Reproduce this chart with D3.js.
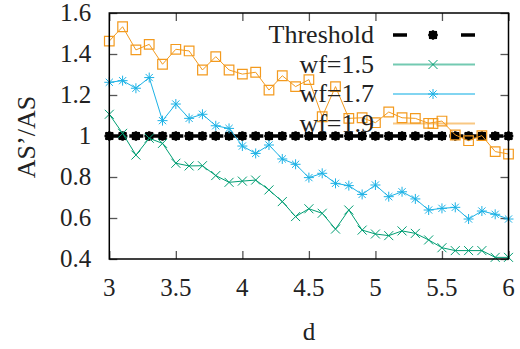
<!DOCTYPE html>
<html>
<head>
<meta charset="utf-8">
<script src="https://cdn.jsdelivr.net/npm/d3@7"></script>
<style>
  body { margin: 0; background: #fff; }
  text { font-family: "Liberation Serif", "Times New Roman", serif; }
</style>
</head>
<body>
<div id="chart"></div>
<script>
// data
const dValues = [3.0, 3.1, 3.2, 3.3, 3.4, 3.5, 3.6, 3.7, 3.8, 3.9, 4.0, 4.1, 4.2, 4.3, 4.4, 4.5,
  4.6, 4.7, 4.8, 4.9, 5.0, 5.1, 5.2, 5.3, 5.4, 5.5, 5.6, 5.7, 5.8, 5.9, 6.0];
const threshold = [1, 1, 1, 1, 1, 1, 1, 1, 1, 1, 1, 1, 1, 1, 1, 1,
  1, 1, 1, 1, 1, 1, 1, 1, 1, 1, 1, 1, 1, 1, 1];
const wf15 = [1.106, 1.013, 0.907, 0.989, 0.964, 0.867, 0.854, 0.855, 0.807, 0.774, 0.78, 0.785,
  0.737, 0.68, 0.607, 0.645, 0.623, 0.546, 0.639, 0.541, 0.522, 0.514, 0.537, 0.525, 0.493,
  0.455, 0.441, 0.441, 0.441, 0.408, 0.408];
const wf17 = [1.262, 1.27, 1.233, 1.285, 1.075, 1.156, 1.086, 1.106, 1.05, 1.037, 0.951, 0.915,
  0.956, 0.888, 0.862, 0.797, 0.818, 0.769, 0.758, 0.715, 0.761, 0.704, 0.728, 0.693, 0.639,
  0.647, 0.652, 0.595, 0.634, 0.618, 0.595];
const wf19 = [1.463, 1.533, 1.42, 1.447, 1.35, 1.423, 1.415, 1.322, 1.387, 1.322, 1.302, 1.311,
  1.224, 1.294, 1.241, 1.275, 1.094, 1.241, 1.086, 1.089, 1.065, 1.117, 1.089, 1.086, 1.062,
  1.073, 1.005, 0.977, 1.002, 0.924, 0.912];
const xTicks = [3, 3.5, 4, 4.5, 5, 5.5, 6];
const yTicks = [0.4, 0.6, 0.8, 1, 1.2, 1.4, 1.6];
const seriesNames = ['Threshold', 'wf=1.5', 'wf=1.7', 'wf=1.9'];

const width = 520, height = 349;
const margin = { top: 13, right: 11.5, bottom: 90, left: 109.3 };
const plotW = width - margin.left - margin.right;
const plotH = height - margin.top - margin.bottom;

const svg = d3.select('#chart').append('svg')
  .attr('width', width)
  .attr('height', height);

const g = svg.append('g')
  .attr('transform', `translate(${margin.left},${margin.top})`);

const x = d3.scaleLinear().domain([3, 6]).range([0, plotW]);
const y = d3.scaleLinear().domain([0.4, 1.6]).range([plotH, 0]);

// tick marks point inward and are mirrored on top/right; labels drawn below
function styleAxis(sel) {
  sel.select('.domain').remove();
  sel.selectAll('.tick line').attr('stroke', '#555').attr('stroke-width', 1.3);
}

g.append('g')
  .attr('transform', `translate(0,${plotH})`)
  .call(d3.axisBottom(x).tickValues(xTicks).tickFormat('').tickSizeInner(-8).tickSizeOuter(0))
  .call(styleAxis);
g.append('g')
  .call(d3.axisTop(x).tickValues(xTicks).tickFormat('').tickSizeInner(-8).tickSizeOuter(0))
  .call(styleAxis);
g.append('g')
  .call(d3.axisLeft(y).tickValues(yTicks).tickFormat('').tickSizeInner(-8).tickSizeOuter(0))
  .call(styleAxis);
g.append('g')
  .attr('transform', `translate(${plotW},0)`)
  .call(d3.axisRight(y).tickValues(yTicks).tickFormat('').tickSizeInner(-8).tickSizeOuter(0))
  .call(styleAxis);

g.selectAll('text.xlab')
  .data(xTicks)
  .enter().append('text')
  .attr('class', 'xlab')
  .attr('x', d => x(d))
  .attr('y', plotH + 37)
  .attr('text-anchor', 'middle')
  .attr('font-size', 25)
  .attr('fill', '#222')
  .text(d => String(d));

g.selectAll('text.ylab')
  .data(yTicks)
  .enter().append('text')
  .attr('class', 'ylab')
  .attr('x', -18)
  .attr('y', d => y(d) + 8)
  .attr('text-anchor', 'end')
  .attr('font-size', 25)
  .attr('fill', '#222')
  .text(d => String(d));

// marker shapes
const markers = {
  star: r => `M${-r},0H${r}M0,${-r}V${r}M${-r * 0.72},${-r * 0.72}L${r * 0.72},${r * 0.72}M${-r * 0.72},${r * 0.72}L${r * 0.72},${-r * 0.72}`,
  cross: r => `M${-r},${-r}L${r},${r}M${-r},${r}L${r},${-r}`,
  square: r => `M${-r},${-r}H${r}V${r}H${-r}Z`,
  bold: r => `M${-r * 0.84},${-r * 0.84}H${r * 0.84}V${r * 0.84}H${-r * 0.84}Z`
};

const series = [
  { name: seriesNames[0], values: threshold, color: '#000', width: 3.5, dash: '14,6', marker: 'star', r: 4.8, mw: 2.4, bold: true },
  { name: seriesNames[1], values: wf15, color: '#009e73', width: 1, dash: null, marker: 'cross', r: 4.5, mw: 1 },
  { name: seriesNames[2], values: wf17, color: '#1cb2e6', width: 1, dash: null, marker: 'star', r: 5, mw: 1 },
  { name: seriesNames[3], values: wf19, color: '#f39a1e', width: 1, dash: null, marker: 'square', r: 4.8, mw: 1.2 }
];

function drawMarker(sel, s) {
  if (s.bold) {
    sel.append('path')
      .attr('d', markers.bold(s.r))
      .attr('fill', s.color);
  }
  sel.append('path')
    .attr('d', markers[s.marker](s.r))
    .attr('fill', 'none')
    .attr('stroke', s.color)
    .attr('stroke-width', s.mw);
}

const line = d3.line().x((d, i) => x(dValues[i])).y(d => y(d));

series.forEach(s => {
  g.append('path')
    .datum(s.values)
    .attr('fill', 'none')
    .attr('stroke', s.color)
    .attr('stroke-width', s.width)
    .attr('stroke-dasharray', s.dash)
    .attr('d', line);
  g.selectAll(null)
    .data(s.values)
    .enter().append('g')
    .attr('transform', (d, i) => `translate(${x(dValues[i])},${y(d)})`)
    .each(function () { drawMarker(d3.select(this), s); });
});

// frame
g.append('rect')
  .attr('width', plotW).attr('height', plotH)
  .attr('fill', 'none').attr('stroke', '#000').attr('stroke-width', 1.5);

// legend
const legend = svg.append('g');
series.forEach((s, i) => {
  const ly = 35 + i * 29.5;
  legend.append('text')
    .attr('x', 374).attr('y', ly + 8)
    .attr('text-anchor', 'end')
    .attr('font-size', 26)
    .attr('fill', '#222')
    .text(s.name);
  legend.append('line')
    .attr('x1', 393).attr('x2', 475).attr('y1', ly).attr('y2', ly)
    .attr('stroke', s.color)
    .attr('stroke-width', i === 0 ? 3.5 : 2.2)
    .attr('stroke-opacity', i === 0 ? 1 : 0.55)
    .attr('stroke-dasharray', i === 0 ? '14,54' : null);
  legend.append('g')
    .attr('transform', `translate(433,${ly})`)
    .call(sel => drawMarker(sel, s));
});

// axis titles
svg.append('text')
  .attr('x', margin.left + plotW / 2).attr('y', 340)
  .attr('text-anchor', 'middle')
  .attr('font-size', 25)
  .attr('fill', '#222')
  .text('d');
svg.append('text')
  .attr('transform', 'translate(35,137) rotate(-90)')
  .attr('text-anchor', 'middle')
  .attr('font-size', 26)
  .attr('fill', '#222')
  .text('AS’/AS');
</script>
</body>
</html>
